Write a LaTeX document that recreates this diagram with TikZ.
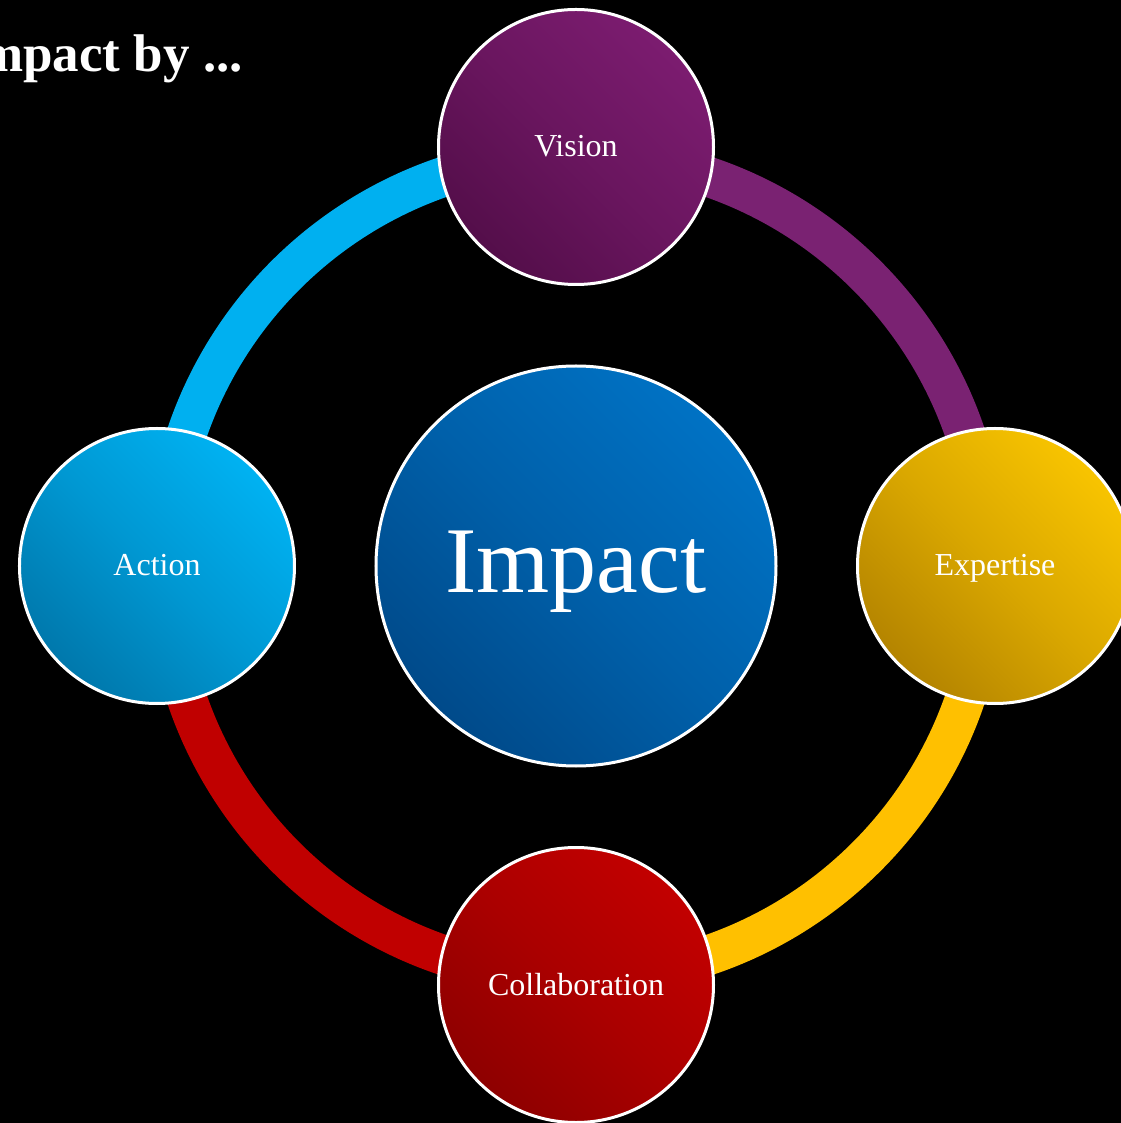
\documentclass[tikz,border=0pt]{standalone}
\usepackage{fontspec}
\setmainfont{Liberation Serif}
\definecolor{skycol}{RGB}{0,176,240}
\definecolor{plumcol}{RGB}{122,34,114}
\definecolor{goldcol}{RGB}{255,192,0}
\definecolor{redcol}{RGB}{192,0,0}
\definecolor{implight}{RGB}{0,114,196}
\definecolor{impdark}{RGB}{0,74,138}
\definecolor{vislight}{RGB}{124,28,112}
\definecolor{visdark}{RGB}{84,14,74}
\definecolor{actlight}{RGB}{0,178,242}
\definecolor{actdark}{RGB}{0,120,172}
\definecolor{explight}{RGB}{248,196,0}
\definecolor{expdark}{RGB}{180,132,0}
\definecolor{collight}{RGB}{194,0,0}
\definecolor{coldark}{RGB}{142,0,0}
\tikzset{every picture/.style={x=1pt,y=1pt}}
\tikzset{hub/.style={circle,draw=white,line width=3pt,inner sep=0pt,text=white}}
\tikzset{small/.style={minimum size=275pt,font=\fontsize{32}{36}\selectfont,text height=22pt,text depth=2pt}}
\tikzset{large/.style={minimum size=400pt,font=\fontsize{94}{100}\selectfont,text height=66pt,text depth=12pt}}
\tikzset{grad/.style n args={2}{top color=#1,bottom color=#2,middle color=#1!55!#2,shading angle=-45}}
\tikzset{ring/.style={line width=40pt}}
\begin{document}
\begin{tikzpicture}
\useasboundingbox (-576,-557) rectangle (544,566);
\fill [black] (-600,-600) rectangle (600,600);
\coordinate (c) at (0,0);
\foreach \s/\e/\col in {180/90/skycol,90/0/plumcol,0/-90/goldcol,-90/-180/redcol}
  \draw [ring,\col] (c) ++(\s:411) arc [start angle=\s,end angle=\e,radius=411];

\node [hub,large,grad={implight}{impdark}] (imp) at (c) {Impact};
\node [hub,small,grad={vislight}{visdark}] (vis) at (0,419) {Vision};
\node [hub,small,grad={actlight}{actdark}] (act) at (-419,0) {Action};
\node [hub,small,grad={explight}{expdark}] (exp) at (419,0) {Expertise};
\node [hub,small,grad={collight}{coldark}] (col) at (0,-419) {Collaboration};

\node [anchor=base east,inner sep=0pt,text=white,font=\bfseries\fontsize{53}{58}\selectfont] (title) at (-333,494) {Impact by ...};
\end{tikzpicture}
\end{document}
